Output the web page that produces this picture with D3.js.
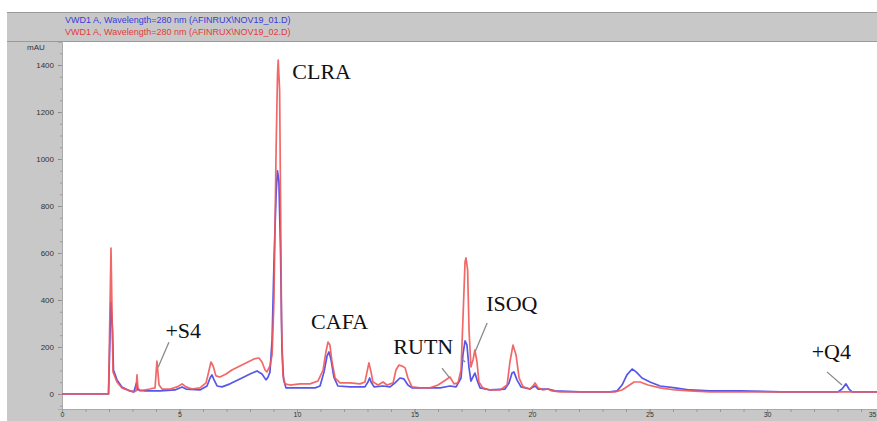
<!DOCTYPE html>
<html>
<head>
<meta charset="utf-8">
<script src="https://cdn.jsdelivr.net/npm/d3@7"></script>
<style>
  body { margin: 0; background: #fff; }
  svg { display: block; }
</style>
</head>
<body>
<div id="chart"></div>
<script>
const width = 877;
const height = 421;

// retention time (min) and absorbance (mAU), run 01 (blue)
const blueTime = [0, 1.98, 2.08, 2.15, 2.19, 2.34, 2.55, 2.89, 3.06, 3.17, 3.23, 3.53, 4.17, 4.81, 5.11, 5.28, 5.87,
  6.17, 6.3, 6.38, 6.47, 6.6, 6.81, 7.15, 7.57, 8.0, 8.3, 8.51, 8.68, 8.77, 8.85, 8.94, 9.02, 9.11, 9.17, 9.23, 9.3,
  9.36, 9.43, 9.53, 10.13, 10.77, 10.98, 11.15, 11.28, 11.36, 11.45, 11.57, 11.74, 12.26, 12.89, 13.02, 13.09, 13.15,
  13.28, 13.66, 13.96, 14.17, 14.38, 14.55, 14.72, 14.89, 16.09, 16.51, 16.77, 16.98, 17.06, 17.15, 17.23, 17.32,
  17.4, 17.51, 17.57, 17.66, 17.79, 18.21, 18.85, 19.02, 19.15, 19.23, 19.36, 19.53, 19.91, 20.13, 20.26, 20.68,
  20.98, 22.04, 23.32, 23.62, 23.83, 24.04, 24.26, 24.43, 24.68, 25.02, 25.45, 26.09, 26.72, 27.57, 28.85, 30.6,
  33.02, 33.19, 33.36, 33.49, 33.62, 34.7];
const blueAbs = [0, 0, 391, 272, 102, 60, 30, 13, 9, 47, 17, 13, 13, 17, 30, 21, 17,
  34, 68, 81, 60, 34, 30, 43, 64, 85, 98, 85, 60, 72, 94, 230, 560, 850, 950, 905, 600,
  187, 60, 26, 26, 26, 34, 94, 162, 179, 145, 72, 34, 30, 30, 51, 68, 51,
  30, 34, 30, 47, 68, 64, 38, 26, 26, 34, 30, 68, 166, 226, 209, 111,
  55, 77, 89, 60, 26, 17, 21, 47, 89, 94, 60, 30, 21, 34, 21, 21,
  13, 9, 9, 13, 38, 81, 106, 94, 68, 51, 34, 26, 17, 13, 13, 9,
  9, 21, 43, 21, 9, 9];

// run 02 (red)
const redTime = [0, 1.98, 2.085, 2.17, 2.34, 2.55, 2.89, 3.06, 3.15, 3.19, 3.23, 3.32, 3.74, 3.96, 4.04, 4.13, 4.26,
  4.6, 4.9, 5.11, 5.28, 5.53, 5.87, 6.13, 6.26, 6.34, 6.43, 6.55, 6.72, 6.98, 7.23, 7.57, 7.91, 8.17, 8.38, 8.51,
  8.64, 8.72, 8.85, 8.94, 9.02, 9.11, 9.17, 9.2, 9.26, 9.3, 9.34, 9.4, 9.49, 9.7, 10.13, 10.55, 10.89, 11.11, 11.23,
  11.32, 11.4, 11.49, 11.62, 11.83, 12.26, 12.68, 12.89, 12.98, 13.06, 13.15, 13.23, 13.45, 13.66, 13.83, 14.09,
  14.21, 14.34, 14.47, 14.6, 14.72, 14.89, 15.23, 15.66, 16.0, 16.26, 16.51, 16.68, 16.85, 16.98, 17.06, 17.15,
  17.19, 17.26, 17.32, 17.4, 17.49, 17.57, 17.66, 17.74, 17.91, 18.21, 18.64, 18.94, 19.06, 19.19, 19.32, 19.45,
  19.62, 19.91, 20.04, 20.13, 20.26, 20.47, 20.68, 20.85, 21.19, 22.04, 22.89, 23.53, 23.83, 24.09, 24.34, 24.6,
  24.94, 25.45, 26.09, 26.72, 27.57, 28.85, 31.4, 34.7];
const redAbs = [0, 0, 621, 94, 51, 26, 13, 9, 13, 81, 26, 13, 21, 26, 140, 38, 21,
  21, 30, 43, 30, 21, 26, 47, 102, 136, 119, 77, 72, 85, 102, 119, 136, 149, 153, 136,
  102, 94, 119, 166, 400, 1038, 1357, 1421, 1294, 826, 315, 81, 43, 38, 43, 43, 55, 102, 179,
  221, 209, 136, 68, 47, 47, 43, 51, 94, 132, 94, 51, 38, 51, 38, 47,
  102, 123, 119, 111, 68, 30, 26, 26, 38, 55, 72, 43, 47, 102, 315, 562,
  579, 528, 272, 115, 145, 187, 136, 51, 26, 17, 17, 38, 136, 208, 166, 68,
  30, 21, 34, 47, 26, 17, 21, 13, 9, 9, 9, 9, 17, 34, 51, 51,
  38, 26, 17, 13, 9, 9, 9, 9];

const yTicks = [0, 200, 400, 600, 800, 1000, 1200, 1400];
const xTicks = [0, 5, 10, 15, 20, 25, 30, 35];

const headerLines = [
  { text: "VWD1 A, Wavelength=280 nm (AFINRUX\\NOV19_01.D)", color: "#3a3ad8" },
  { text: "VWD1 A, Wavelength=280 nm (AFINRUX\\NOV19_02.D)", color: "#e23b3b" }
];

// peak labels: name, time and mAU of the text baseline
const peakNames = ["CLRA", "+S4", "CAFA", "RUTN", "ISOQ", "+Q4"];
const peakLabelTime = [9.8, 4.4, 10.6, 14.1, 18.05, 31.9];
const peakLabelAbs = [1340, 240, 278, 170, 353, 148];

const plotLeft = 62, plotRight = 877, plotTop = 42, plotBottom = 409;

const x = d3.scaleLinear().domain([0, 34.68]).range([plotLeft, plotRight]);
const y = d3.scaleLinear().domain([-64, 1498]).range([plotBottom, plotTop]);

const svg = d3.select("#chart").append("svg")
  .attr("width", width)
  .attr("height", height)
  .attr("viewBox", `0 0 ${width} ${height}`);

svg.append("rect").attr("width", width).attr("height", height).attr("fill", "#fff");

// header band
svg.append("rect").attr("x", 7).attr("y", 12).attr("width", width - 7).attr("height", 30)
  .attr("fill", "#c8c8c8");
svg.append("line").attr("x1", 7).attr("x2", width).attr("y1", 12.5).attr("y2", 12.5).attr("stroke", "#9a9a9a");
svg.append("line").attr("x1", 7).attr("x2", width).attr("y1", 41.5).attr("y2", 41.5).attr("stroke", "#9a9a9a");
svg.selectAll("text.header")
  .data(headerLines)
  .join("text")
  .attr("class", "header")
  .attr("x", 65)
  .attr("y", (d, i) => 23 + i * 11.5)
  .attr("fill", d => d.color)
  .attr("font-family", "Arial, 'Liberation Sans', sans-serif")
  .attr("font-size", 9)
  .text(d => d.text);

// left axis panel and bottom axis band
svg.append("rect").attr("x", 7).attr("y", 42).attr("width", plotLeft - 7).attr("height", height - 42)
  .attr("fill", "#c8c8c8");
svg.append("rect").attr("x", plotLeft).attr("y", plotBottom).attr("width", plotRight - plotLeft)
  .attr("height", height - plotBottom).attr("fill", "#c8c8c8");

svg.append("text").attr("x", 36).attr("y", 50).attr("text-anchor", "middle")
  .attr("font-family", "Arial, 'Liberation Sans', sans-serif").attr("font-size", 8)
  .attr("fill", "#333").text("mAU");

const yAxis = d3.axisLeft(y).tickValues(yTicks).tickSize(4).tickPadding(4).tickFormat(d3.format("d"));
const ga = svg.append("g").attr("transform", `translate(${plotLeft},0)`).call(yAxis);
ga.select(".domain").attr("stroke", "#aaa");
ga.selectAll(".tick line").attr("stroke", "#888");
ga.selectAll(".tick text").attr("fill", "#333").attr("font-size", 8)
  .attr("font-family", "Arial, 'Liberation Sans', sans-serif");

const yMinor = d3.axisLeft(y).tickValues(d3.range(-50, 1500, 50)).tickSize(2).tickFormat("");
const gm = svg.append("g").attr("transform", `translate(${plotLeft},0)`).call(yMinor);
gm.select(".domain").remove();
gm.selectAll(".tick line").attr("stroke", "#999");

const xAxis = d3.axisBottom(x).tickValues(xTicks).tickSize(4).tickPadding(1).tickFormat(d3.format("d"));
const gx = svg.append("g").attr("transform", `translate(0,${plotBottom})`).call(xAxis);
gx.select(".domain").attr("stroke", "#aaa");
gx.selectAll(".tick line").attr("stroke", "#888");
gx.selectAll(".tick text").attr("fill", "#333").attr("font-size", 7)
  .attr("dy", "0.45em")
  .attr("font-family", "Arial, 'Liberation Sans', sans-serif")
  .attr("text-anchor", d => x(d) > plotRight - 6 ? "end" : "middle")
  .attr("dx", d => x(d) > plotRight - 6 ? x.range()[1] - x(d) - 1 : 0);

const xMinor = d3.axisBottom(x).tickValues(d3.range(0, 35, 1)).tickSize(3).tickFormat("");
const gxm = svg.append("g").attr("transform", `translate(0,${plotBottom})`).call(xMinor);
gxm.select(".domain").remove();
gxm.selectAll(".tick line").attr("stroke", "#999");

// traces
svg.append("clipPath").attr("id", "plot-clip").append("rect")
  .attr("x", plotLeft).attr("y", plotTop).attr("width", plotRight - plotLeft).attr("height", plotBottom - plotTop);

const line = d3.line().x(d => x(d[0])).y(d => y(d[1]));
const blue = d3.zip(blueTime, blueAbs);
const red = d3.zip(redTime, redAbs);

const plot = svg.append("g").attr("clip-path", "url(#plot-clip)");
plot.append("path").datum(blue)
  .attr("d", line).attr("fill", "none")
  .attr("stroke", "#5656e8").attr("stroke-width", 1.7).attr("stroke-linejoin", "round");
plot.append("path").datum(red)
  .attr("d", line).attr("fill", "none")
  .attr("stroke", "#f05858").attr("stroke-width", 1.7).attr("stroke-opacity", 0.9)
  .attr("stroke-linejoin", "round");

// leader lines (start/end in time, mAU)
const leaderFrom = [[4.55, 220], [16.17, 110], [18.09, 302], [32.55, 94], [16.98, 153]];
const leaderTo = [[4.09, 114], [16.47, 72], [17.57, 178], [33.19, 38], [17.15, 136]];
svg.append("g").selectAll("line")
  .data(d3.zip(leaderFrom, leaderTo))
  .join("line")
  .attr("x1", d => x(d[0][0])).attr("y1", d => y(d[0][1]))
  .attr("x2", d => x(d[1][0])).attr("y2", d => y(d[1][1]))
  .attr("stroke", "#8a8a8a").attr("stroke-width", 1.3);

svg.append("g").selectAll("text")
  .data(d3.zip(peakNames, peakLabelTime, peakLabelAbs))
  .join("text")
  .attr("x", d => x(d[1]))
  .attr("y", d => y(d[2]))
  .attr("font-family", "'Liberation Serif', 'Times New Roman', serif")
  .attr("font-size", 22)
  .attr("fill", "#111")
  .text(d => d[0]);
</script>
</body>
</html>
